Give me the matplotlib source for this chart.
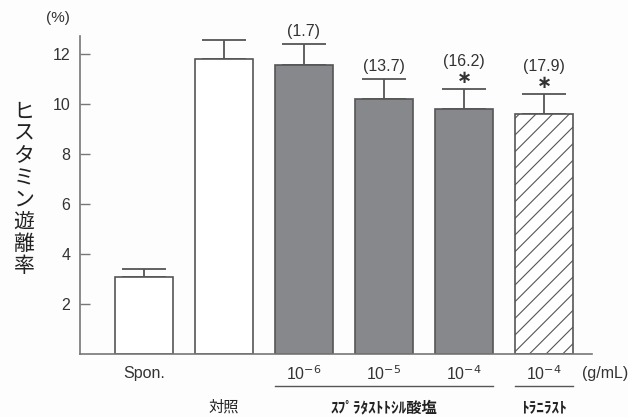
import matplotlib.pyplot as plt
import numpy as np

plt.rcParams["font.family"] = ["Liberation Sans", "Noto Sans CJK JP", "DejaVu Sans"]
plt.rcParams["hatch.color"] = "#444444"
plt.rcParams["hatch.linewidth"] = 0.8

# release (%) per group, mean and upper error
groups = ["Spon.", "対照", "1e-6", "1e-5", "1e-4", "tranilast"]
means = [3.1, 11.8, 11.55, 10.2, 9.8, 9.6]
errors = [0.3, 0.75, 0.85, 0.8, 0.8, 0.8]
inhibition = [None, None, "(1.7)", "(13.7)", "(16.2)", "(17.9)"]
significant = [False, False, False, False, True, True]
dose_labels = ["Spon.", "", "10$^{-6}$", "10$^{-5}$", "10$^{-4}$", "10$^{-4}$"]
yticks = [2, 4, 6, 8, 10, 12]

edge = "#555555"
fills = ["white", "white", "#87888c", "#87888c", "#87888c", "white"]
hatches = [None, None, None, None, None, "//"]
text_col = "#333333"

fig = plt.figure(figsize=(6.28, 4.17), dpi=100)
fig.patch.set_facecolor("#fdfdfd")
ax = fig.add_axes([80 / 628, 1 - 354 / 417, 512 / 628, 318 / 417])
ax.set_facecolor("#fdfdfd")

x = np.arange(len(groups))
for xi, m, f, h in zip(x, means, fills, hatches):
    ax.bar(xi, m, width=0.73, color=f, edgecolor=edge, linewidth=1.2, hatch=h, zorder=2)
ax.errorbar(x, means, yerr=[np.zeros(len(x)), errors], fmt="none", ecolor=edge,
            elinewidth=1.3, capsize=16, capthick=1.3, zorder=1)

# inhibition rates (%) and significance marks above the error caps
for xi, m, e, txt, sig in zip(x, means, errors, inhibition, significant):
    top = m + e
    if sig:
        ax.text(xi, top + 0.42, "\u2217", ha="center", va="center", fontsize=13,
                fontweight="bold", family="DejaVu Sans", color=text_col)
        ax.text(xi, top + 1.1, txt, ha="center", va="center", fontsize=11.5, color=text_col)
    elif txt:
        ax.text(xi, top + 0.5, txt, ha="center", va="center", fontsize=11.5, color=text_col)

ax.set_xlim(-0.8, 5.6)
ax.set_ylim(0, 12.72)
ax.set_yticks(yticks)
ax.set_xticks([])
ax.tick_params(axis="y", direction="in", length=7, width=1, color="#777777",
               labelsize=11.5, pad=7, labelcolor=text_col)
for side in ("top", "right"):
    ax.spines[side].set_visible(False)
for side in ("left", "bottom"):
    ax.spines[side].set_color("#777777")
    ax.spines[side].set_linewidth(1.2)

# dose labels under the axis
for xi, lab in zip(x, dose_labels):
    if lab:
        ax.text(xi, -0.78, lab, ha="center", va="center", fontsize=11.5, color=text_col)
ax.text(5.47, -0.78, "(g/mL)", ha="left", va="center", fontsize=11.5, color=text_col,
        clip_on=False)

# group brackets and names
ax.plot([1.64, 4.36], [-1.28, -1.28], color="#555555", lw=1, clip_on=False)
ax.plot([4.64, 5.36], [-1.28, -1.28], color="#555555", lw=1, clip_on=False)
jp = ["Noto Sans CJK JP", "DejaVu Sans"]
ax.text(1, -2.12, "対照", ha="center", va="center", fontsize=11, family=jp, color="#222222")
ax.text(3, -2.12, "ｽﾌﾟﾗﾀｽﾄﾄｼﾙ酸塩", ha="center", va="center", fontsize=11,
        family=jp, fontweight="bold", color="#222222")
ax.text(5, -2.12, "ﾄﾗﾆﾗｽﾄ", ha="center", va="center", fontsize=11,
        family=jp, fontweight="bold", color="#222222")

fig.text(58 / 628, 1 - 18 / 417, "(%)", ha="center", va="center", fontsize=11, color=text_col)
fig.text(24 / 628, 1 - 189 / 417, "\n".join("ヒスタミン遊離率"), ha="center", va="center",
         fontsize=15, family=jp, linespacing=1.0, color="#222222")

fig.savefig("out.png", dpi=100, facecolor=fig.get_facecolor())
